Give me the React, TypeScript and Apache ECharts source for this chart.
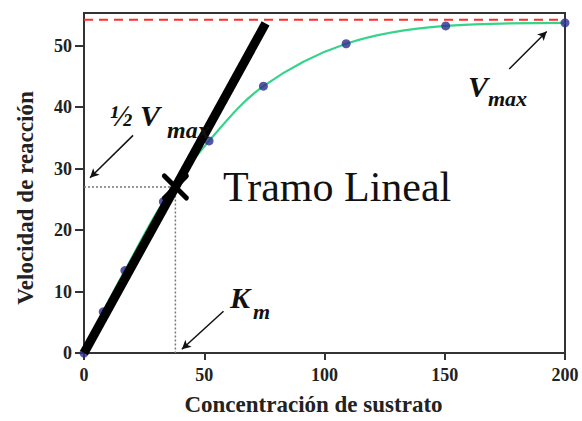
import React, { useEffect, useRef } from "react";
import * as echarts from "echarts";

const xTicks = [0, 50, 100, 150, 200];
const yTicks = [0, 10, 20, 30, 40, 50];
const substrate = [0, 8, 17, 33, 52, 74.6, 109, 150.4, 200];
const velocity = [0, 6.7, 13.4, 24.6, 34.5, 43.4, 50.3, 53.2, 53.7];
const vmax = 54.2;
const km = 38;
const halfVmax = 27;
const linearX = [0, 75.5];
const linearY = [0, 53.6];
const arrowStarts = [
  [20.4, 35.4],
  [176.8, 46.2],
  [58.0, 6.8],
];
const arrowEnds = [
  [2.5, 28.5],
  [192.4, 52.3],
  [40.7, 0.6],
];

const SERIF = '"Liberation Serif", "Times New Roman", Times, serif';

export default function App() {
  const ref = useRef<HTMLDivElement>(null);

  useEffect(() => {
    if (!ref.current) return;
    const chart = echarts.init(ref.current, undefined, { renderer: "svg" });

    const points = substrate.map((x, i) => [x, velocity[i]]);

    const bt = (text: string, x: number, y: number, size: number, italic = true, bold = true) => ({
      type: "text",
      x,
      y,
      z: 100,
      style: {
        text,
        fontFamily: SERIF,
        fontSize: size,
        fontStyle: italic ? "italic" : "normal",
        fontWeight: bold ? "bold" : "normal",
        fill: "#111",
        align: "left",
        verticalAlign: "middle",
      },
    });

    chart.setOption({
      animation: false,
      textStyle: { fontFamily: SERIF },
      grid: {
        left: 84,
        right: 17,
        top: 13,
        bottom: 62,
        show: true,
        borderColor: "#333",
        borderWidth: 2,
        backgroundColor: "transparent",
      },
      xAxis: {
        type: "value",
        min: 0,
        max: 200,
        interval: 50,
        name: "Concentración de sustrato",
        nameLocation: "middle",
        nameGap: 40,
        nameTextStyle: {
          fontFamily: SERIF,
          fontSize: 23,
          fontWeight: "bold",
          color: "#222",
          padding: [0, 22, 0, 0],
        },
        axisLine: { show: true, lineStyle: { color: "#333", width: 2 } },
        axisTick: { show: true, length: 7, lineStyle: { color: "#333", width: 2 } },
        axisLabel: {
          margin: 13,
          fontFamily: SERIF,
          fontSize: 18,
          fontWeight: "bold",
          color: "#222",
          customValues: xTicks,
        },
        splitLine: { show: false },
      },
      yAxis: {
        type: "value",
        min: 0,
        max: 55.3,
        interval: 10,
        name: "Velocidad de reacción",
        nameLocation: "middle",
        nameGap: 47,
        nameRotate: 90,
        nameTextStyle: {
          fontFamily: SERIF,
          fontSize: 23,
          fontWeight: "bold",
          color: "#222",
          padding: [0, 30, 0, 0],
        },
        axisLine: { show: true, lineStyle: { color: "#333", width: 2 } },
        axisTick: {
          show: true,
          length: 9,
          lineStyle: { color: "#333", width: 2 },
          customValues: yTicks,
        },
        axisLabel: {
          margin: 12,
          fontFamily: SERIF,
          fontSize: 18,
          fontWeight: "bold",
          color: "#222",
          customValues: yTicks,
        },
        splitLine: { show: false },
      },
      series: [
        {
          type: "line",
          name: "vmax",
          data: [
            [0, vmax],
            [200, vmax],
          ],
          showSymbol: false,
          symbol: "none",
          lineStyle: { color: "#ff2e2e", width: 2, type: [9, 6] },
          z: 2,
          silent: true,
        },
        {
          type: "line",
          name: "guides",
          data: [
            [0, halfVmax],
            [km, halfVmax],
            [km, 0],
          ],
          symbol: "none",
          lineStyle: { color: "#777", width: 1.5, type: [2, 2] },
          z: 2,
          silent: true,
          markLine: {
            silent: true,
            symbol: ["none", "arrow"],
            symbolSize: [7, 9],
            label: { show: false },
            lineStyle: { color: "#111", width: 1.5, type: "solid" },
            data: arrowStarts.map((s, i) => [{ coord: s }, { coord: arrowEnds[i] }]),
          },
        },
        {
          type: "line",
          name: "curve",
          data: points,
          smooth: 0.35,
          showSymbol: false,
          symbol: "none",
          lineStyle: { color: "#35d48a", width: 2.2 },
          z: 3,
          silent: true,
        },
        {
          type: "scatter",
          name: "datos",
          data: points,
          symbolSize: 9,
          itemStyle: { color: "#2b2d8f" },
          z: 4,
          silent: true,
        },
        {
          type: "line",
          name: "lineal",
          data: linearX.map((x, i) => [x, linearY[i]]),
          symbol: "none",
          lineStyle: { color: "#000", width: 9, cap: "butt" },
          z: 5,
          silent: true,
        },
        {
          type: "custom",
          name: "cruce",
          data: [[km, halfVmax]],
          z: 6,
          silent: true,
          renderItem: (_params: any, api: any) => {
            const p = api.coord([api.value(0), api.value(1)]);
            const s = 11;
            const st = { stroke: "#000", lineWidth: 5, lineCap: "round" };
            return {
              type: "group",
              children: [
                { type: "line", shape: { x1: p[0] - s, y1: p[1] - s, x2: p[0] + s, y2: p[1] + s }, style: st },
                { type: "line", shape: { x1: p[0] - s, y1: p[1] + s, x2: p[0] + s, y2: p[1] - s }, style: st },
              ],
            };
          },
        },
      ],
      graphic: [
        bt("Tramo Lineal", 223, 187, 42, false, false),
        bt("½ V", 110, 115, 30),
        bt("max", 167, 130, 24),
        bt("V", 468, 86, 30),
        bt("max", 488, 98, 22),
        bt("K", 230, 297, 30),
        bt("m", 253, 311, 22),
      ],
    });

    return () => chart.dispose();
  }, []);

  return (
    <div
      ref={ref}
      style={{ position: "fixed", left: 0, top: 0, width: 582, height: 421, background: "#fff" }}
    />
  );
}
